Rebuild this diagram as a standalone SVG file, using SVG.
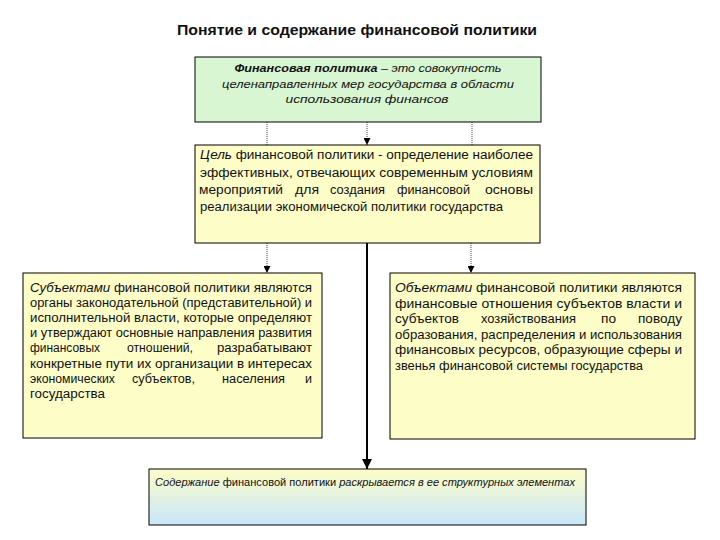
<svg xmlns="http://www.w3.org/2000/svg" width="720" height="540" viewBox="0 0 720 540">
<style>
.box{stroke:#000;stroke-width:1}
.t{font-family:"Liberation Sans","Open Sans",sans-serif;fill:#111}
.i{font-style:italic}
.s{font-size:12px}
.m{font-size:12.5px}
.dot{stroke:#444;stroke-width:1;stroke-dasharray:1 1;fill:none}
.solid{stroke:#000;stroke-width:2;fill:none}
</style>
<defs>
<marker id="ah" viewBox="0 0 8 8" refX="8" refY="4" markerWidth="7" markerHeight="7" orient="auto" markerUnits="userSpaceOnUse">
<path d="M0,0 L8,4 L0,8 z" fill="#000"/>
</marker>
<marker id="ah2" viewBox="0 0 8 8" refX="8" refY="4" markerWidth="5" markerHeight="5" orient="auto">
<path d="M0,0 L8,4 L0,8 z" fill="#000"/>
</marker>
<linearGradient id="g1" x1="0" y1="0" x2="0" y2="1">
<stop offset="0" stop-color="#fdfdc8"/>
<stop offset="1" stop-color="#c8e6fb"/>
</linearGradient>
</defs>
<rect width="720" height="540" fill="#fff"/>
<text class="t" x="357" y="35" text-anchor="middle" font-size="14.5" font-weight="bold" textLength="360" lengthAdjust="spacingAndGlyphs">Понятие и содержание финансовой политики</text>

<g id="connectors">
<line class="dot" x1="267" y1="122" x2="267" y2="145"/>
<line class="dot" x1="367" y1="122" x2="367" y2="145" marker-end="url(#ah)"/>
<line class="dot" x1="472" y1="122" x2="472" y2="145"/>
<line class="dot" x1="267" y1="243" x2="267" y2="273" marker-end="url(#ah)"/>
<line class="dot" x1="471" y1="243" x2="471" y2="273" marker-end="url(#ah)"/>
<line class="solid" x1="367" y1="243" x2="367" y2="469" marker-end="url(#ah2)"/>
</g>

<g id="definition">
<rect class="box" x="195" y="57" width="346" height="65" fill="#d9f6d2"/>
<text class="t i" x="368" y="72" font-size="11" text-anchor="middle" textLength="267" lengthAdjust="spacingAndGlyphs"><tspan font-weight="bold">Финансовая политика</tspan> – это совокупность</text>
<text class="t i" x="368" y="88" font-size="11" text-anchor="middle" textLength="292" lengthAdjust="spacingAndGlyphs">целенаправленных мер государства в области</text>
<text class="t i" x="367" y="103" font-size="11" text-anchor="middle" textLength="163" lengthAdjust="spacingAndGlyphs">использования финансов</text>
</g>

<g id="goal">
<rect class="box" x="195" y="145" width="345" height="98" fill="#fdfdc8"/>
<text class="t m" x="200" y="159" textLength="333" lengthAdjust="spacingAndGlyphs"><tspan class="i">Цель</tspan> финансовой политики - определение наиболее</text>
<text class="t m" x="200" y="176.5" textLength="333" lengthAdjust="spacingAndGlyphs">эффективных, отвечающих современным условиям</text>
<text class="t m" y="194"><tspan x="199" textLength="84" lengthAdjust="spacingAndGlyphs">мероприятий</tspan><tspan x="295" textLength="24" lengthAdjust="spacingAndGlyphs">для</tspan><tspan x="330" textLength="55" lengthAdjust="spacingAndGlyphs">создания</tspan><tspan x="397" textLength="73" lengthAdjust="spacingAndGlyphs">финансовой</tspan><tspan x="485" textLength="48" lengthAdjust="spacingAndGlyphs">основы</tspan></text>
<text class="t m" x="200" y="211" textLength="303" lengthAdjust="spacingAndGlyphs">реализации экономической политики государства</text>
</g>

<g id="subjects">
<rect class="box" x="23" y="273" width="299" height="165" fill="#fdfdc8"/>
<text class="t s" x="30" y="292" textLength="282" lengthAdjust="spacingAndGlyphs"><tspan class="i">Субъектами</tspan> финансовой политики являются</text>
<text class="t s" x="30" y="307" textLength="282" lengthAdjust="spacingAndGlyphs">органы законодательной (представительной) и</text>
<text class="t s" x="30" y="322.2" textLength="282" lengthAdjust="spacingAndGlyphs">исполнительной власти, которые определяют</text>
<text class="t s" x="30" y="337.3" textLength="282" lengthAdjust="spacingAndGlyphs">и утверждают основные направления развития</text>
<text class="t s" y="352.4"><tspan x="30" textLength="70" lengthAdjust="spacingAndGlyphs">финансовых</tspan><tspan x="127" textLength="66" lengthAdjust="spacingAndGlyphs">отношений,</tspan><tspan x="217" textLength="95" lengthAdjust="spacingAndGlyphs">разрабатывают</tspan></text>
<text class="t s" x="30" y="367.5" textLength="282" lengthAdjust="spacingAndGlyphs">конкретные пути их организации в интересах</text>
<text class="t s" y="382.6"><tspan x="30" textLength="85" lengthAdjust="spacingAndGlyphs">экономических</tspan><tspan x="132" textLength="63" lengthAdjust="spacingAndGlyphs">субъектов,</tspan><tspan x="222" textLength="63" lengthAdjust="spacingAndGlyphs">населения</tspan><tspan x="305" textLength="7" lengthAdjust="spacingAndGlyphs">и</tspan></text>
<text class="t s" x="30" y="397.7" textLength="75" lengthAdjust="spacingAndGlyphs">государства</text>
</g>

<g id="objects">
<rect class="box" x="390" y="273" width="305" height="166" fill="#fdfdc8"/>
<text class="t s" x="395" y="292" textLength="287" lengthAdjust="spacingAndGlyphs"><tspan class="i">Объектами</tspan> финансовой политики являются</text>
<text class="t s" x="395" y="307.5" textLength="287" lengthAdjust="spacingAndGlyphs">финансовые отношения субъектов власти и</text>
<text class="t s" y="323"><tspan x="395" textLength="64" lengthAdjust="spacingAndGlyphs">субъектов</tspan><tspan x="481" textLength="95" lengthAdjust="spacingAndGlyphs">хозяйствования</tspan><tspan x="601" textLength="15" lengthAdjust="spacingAndGlyphs">по</tspan><tspan x="638" textLength="44" lengthAdjust="spacingAndGlyphs">поводу</tspan></text>
<text class="t s" x="395" y="338.5" textLength="287" lengthAdjust="spacingAndGlyphs">образования, распределения и использования</text>
<text class="t s" x="395" y="354" textLength="287" lengthAdjust="spacingAndGlyphs">финансовых ресурсов, образующие сферы и</text>
<text class="t s" x="395" y="369.5" textLength="248" lengthAdjust="spacingAndGlyphs">звенья финансовой системы государства</text>
</g>

<g id="content">
<rect class="box" x="149" y="469" width="437" height="56" fill="url(#g1)"/>
<text class="t" x="155" y="486" font-size="10.5" textLength="420" lengthAdjust="spacingAndGlyphs"><tspan class="i">Содержание</tspan> финансовой политики <tspan class="i">раскрывается в ее структурных элементах</tspan></text>
</g>
</svg>
